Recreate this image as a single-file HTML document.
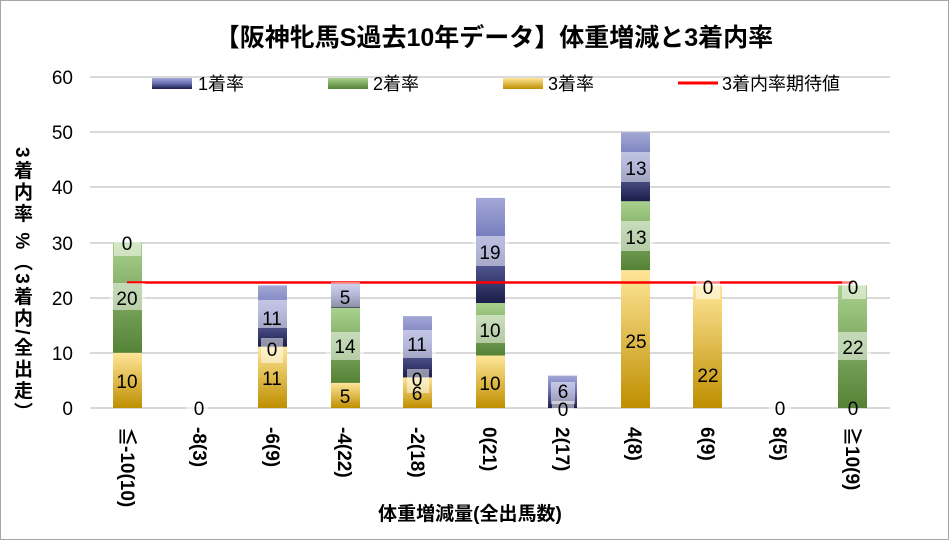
<!DOCTYPE html>
<html><head><meta charset="utf-8"><style>
html,body{margin:0;padding:0;background:#fff;}
#c{position:relative;width:947px;height:538px;border:1px solid #a6a6a6;overflow:hidden;font-family:"Liberation Sans","Noto Sans CJK JP",sans-serif;}
#yt{position:absolute;left:9px;top:146px;writing-mode:vertical-rl;white-space:nowrap;font-weight:bold;font-size:19px;letter-spacing:2.5px;color:#000;line-height:22px;}
</style></head><body><div id="c">
<svg width="947" height="538" viewBox="1 1 947 538" xmlns="http://www.w3.org/2000/svg" font-family="Liberation Sans, Noto Sans CJK JP, sans-serif">
<defs>
<linearGradient id="gb" x1="0" y1="0" x2="0" y2="1"><stop offset="0" stop-color="#a3a8d6"/><stop offset="0.45" stop-color="#6d74b8"/><stop offset="1" stop-color="#1b1d48"/></linearGradient>
<linearGradient id="gg" x1="0" y1="0" x2="0" y2="1"><stop offset="0" stop-color="#a9d18e"/><stop offset="1" stop-color="#548235"/></linearGradient>
<linearGradient id="gy" x1="0" y1="0" x2="0" y2="1"><stop offset="0" stop-color="#ffe699"/><stop offset="1" stop-color="#bf8f00"/></linearGradient>
</defs>
<text x="494" y="46" text-anchor="middle" font-size="25" font-weight="bold">【阪神牝馬S過去10年データ】体重増減と3着内率</text>
<g stroke="#d9d9d9" stroke-width="2">
<line x1="90" x2="890" y1="77" y2="77"/><line x1="90" x2="890" y1="132" y2="132"/><line x1="90" x2="890" y1="187" y2="187"/><line x1="90" x2="890" y1="243" y2="243"/><line x1="90" x2="890" y1="298" y2="298"/><line x1="90" x2="890" y1="353" y2="353"/><line x1="90" x2="890" y1="408" y2="408"/>
</g>
<g font-size="19" text-anchor="end" fill="#000">
<text x="73" y="84">60</text><text x="73" y="139">50</text><text x="73" y="194">40</text><text x="73" y="250">30</text><text x="73" y="305">20</text><text x="73" y="360">10</text><text x="73" y="415">0</text>
</g>
<rect x="152" y="78" width="40" height="11" fill="url(#gb)"/><text x="198" y="90" font-size="18">1着率</text>
<rect x="328" y="78" width="40" height="11" fill="url(#gg)"/><text x="373" y="90" font-size="18">2着率</text>
<rect x="503" y="78" width="40" height="11" fill="url(#gy)"/><text x="548" y="90" font-size="18">3着率</text>
<line x1="678" x2="718" y1="83" y2="83" stroke="#f00" stroke-width="3"/><text x="722" y="90" font-size="18">3着内率期待値</text>
<g>
<rect x="113" y="352.8" width="29" height="55.2" fill="url(#gy)"/>
<rect x="113" y="242.5" width="29" height="110.3" fill="url(#gg)"/>
<rect x="258" y="346.7" width="29" height="61.3" fill="url(#gy)"/>
<rect x="258" y="285.4" width="29" height="61.3" fill="url(#gb)"/>
<rect x="331" y="382.9" width="29" height="25.1" fill="url(#gy)"/>
<rect x="331" y="307.7" width="29" height="75.2" fill="url(#gg)"/>
<rect x="331" y="282.6" width="29" height="25.1" fill="url(#gb)"/>
<rect x="403" y="377.4" width="29" height="30.6" fill="url(#gy)"/>
<rect x="403" y="316.1" width="29" height="61.3" fill="url(#gb)"/>
<rect x="476" y="355.5" width="29" height="52.5" fill="url(#gy)"/>
<rect x="476" y="303" width="29" height="52.5" fill="url(#gg)"/>
<rect x="476" y="197.9" width="29" height="105.1" fill="url(#gb)"/>
<rect x="548" y="375.6" width="29" height="32.4" fill="url(#gb)"/>
<rect x="621" y="270.1" width="29" height="137.9" fill="url(#gy)"/>
<rect x="621" y="201.1" width="29" height="69" fill="url(#gg)"/>
<rect x="621" y="132.2" width="29" height="69" fill="url(#gb)"/>
<rect x="693" y="285.4" width="29" height="122.6" fill="url(#gy)"/>
<rect x="838" y="285.4" width="29" height="122.6" fill="url(#gg)"/>
</g>
<line x1="127" x2="853" y1="282.5" y2="282.5" stroke="#f00" stroke-width="2.5"/>
<g font-size="19" text-anchor="middle">
<g fill="#fff" fill-opacity="0.5">
<rect x="114" y="229" width="27" height="27"/><rect x="109" y="283" width="36" height="27"/>
<rect x="186" y="394" width="22" height="26"/>
<rect x="256" y="300" width="34" height="28"/><rect x="261" y="338" width="22" height="25"/>
<rect x="331" y="282" width="29" height="25"/><rect x="326" y="332" width="38" height="28"/>
<rect x="400" y="330" width="36" height="28"/><rect x="407" y="369" width="22" height="24"/>
<rect x="473" y="236" width="36" height="30"/><rect x="473" y="315" width="36" height="28"/>
<rect x="551" y="382" width="24" height="22"/><rect x="552" y="401" width="22" height="20"/>
<rect x="618" y="152" width="36" height="30"/><rect x="618" y="221" width="36" height="30"/>
<rect x="696" y="275" width="24" height="24"/>
<rect x="769" y="394" width="22" height="26"/>
<rect x="842" y="275" width="24" height="24"/><rect x="835" y="332" width="36" height="28"/>
</g>
<text x="127" y="250">0</text><text x="127" y="305">20</text><text x="127" y="388">10</text>
<text x="199" y="415">0</text>
<text x="272" y="325">11</text><text x="272" y="356">0</text><text x="272" y="385">11</text>
<text x="345" y="304">5</text><text x="345" y="353">14</text><text x="345" y="403">5</text>
<text x="417" y="351">11</text><text x="417" y="386">0</text><text x="417" y="400">6</text>
<text x="490" y="259">19</text><text x="490" y="337">10</text><text x="490" y="390">10</text>
<text x="563" y="398">6</text><text x="563" y="416">0</text>
<text x="636" y="175">13</text><text x="636" y="244">13</text><text x="636" y="348">25</text>
<text x="708" y="294">0</text><text x="708" y="382">22</text>
<text x="780" y="415">0</text>
<text x="853" y="294">0</text><text x="853" y="354">22</text><text x="853" y="415">0</text>
</g>
<g font-size="19" font-weight="bold">
<text transform="translate(121,427) rotate(90)">≦-10(10)</text>
<text transform="translate(193,427) rotate(90)">-8(3)</text>
<text transform="translate(266,427) rotate(90)">-6(9)</text>
<text transform="translate(338,427) rotate(90)">-4(22)</text>
<text transform="translate(411,427) rotate(90)">-2(18)</text>
<text transform="translate(483,427) rotate(90)">0(21)</text>
<text transform="translate(556,427) rotate(90)">2(17)</text>
<text transform="translate(628,427) rotate(90)">4(8)</text>
<text transform="translate(701,427) rotate(90)">6(9)</text>
<text transform="translate(773,427) rotate(90)">8(5)</text>
<text transform="translate(846,427) rotate(90)">≧10(9)</text>
</g>
<text x="470" y="520" text-anchor="middle" font-size="19" font-weight="bold">体重増減量(全出馬数)</text>
</svg>
<div id="yt">3着内率 %（3着内/全出走）</div>
</div></body></html>
